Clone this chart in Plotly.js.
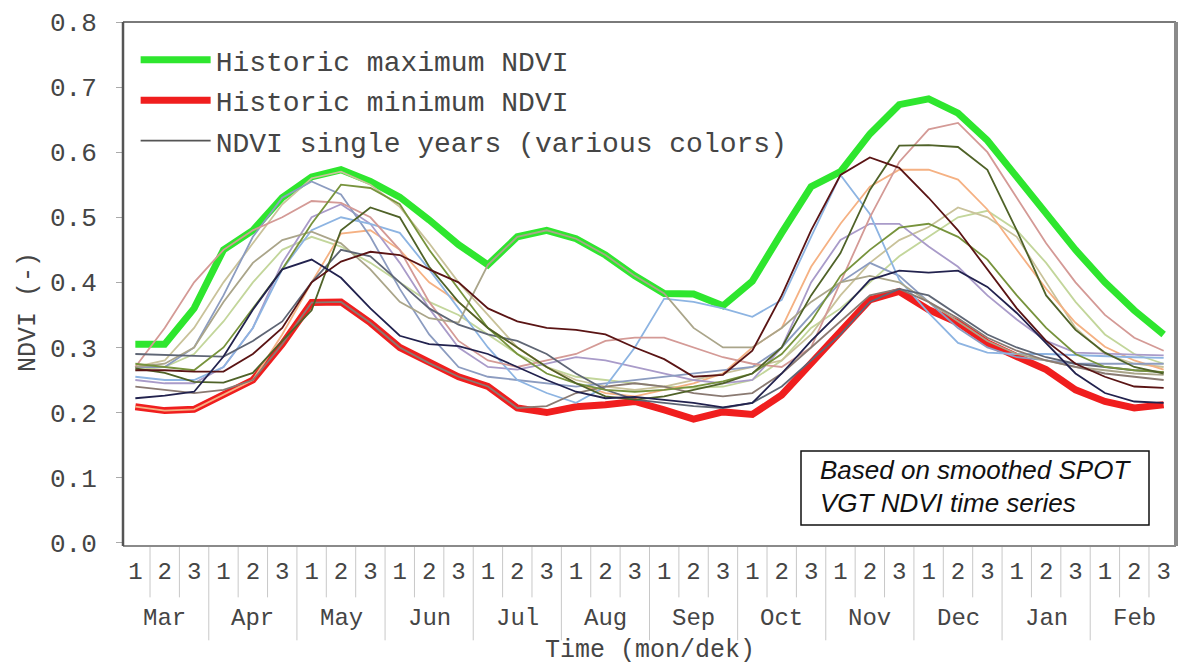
<!DOCTYPE html>
<html>
<head>
<meta charset="utf-8">
<script src="https://cdn.plot.ly/plotly-3.0.1.min.js"></script>
<style>
html,body{margin:0;padding:0;background:#ffffff;}
#chart{width:1184px;height:665px;}
</style>
</head>
<body>
<div id="chart"></div>
<script>
// ---- Data ----
const months = ['Mar','Apr','May','Jun','Jul','Aug','Sep','Oct','Nov','Dec','Jan','Feb'];
const dekads = ['1','2','3'];

const histMax = [0.305,0.305,0.36,0.45,0.48,0.53,0.562,0.573,0.555,0.531,0.496,0.458,0.427,0.47,0.48,0.467,0.442,0.41,0.383,0.382,0.364,0.402,0.476,0.547,0.57,0.628,0.673,0.682,0.66,0.618,0.562,0.507,0.45,0.40,0.357,0.32];
const histMin = [0.209,0.203,0.205,0.227,0.25,0.305,0.369,0.37,0.338,0.30,0.276,0.255,0.24,0.207,0.20,0.209,0.212,0.217,0.204,0.19,0.201,0.197,0.227,0.276,0.322,0.373,0.386,0.358,0.338,0.307,0.286,0.266,0.235,0.217,0.207,0.212];

const yearNavy     = [0.222,0.226,0.232,0.286,0.358,0.42,0.435,0.407,0.36,0.318,0.305,0.302,0.29,0.27,0.25,0.232,0.222,0.224,0.22,0.215,0.208,0.215,0.26,0.31,0.355,0.404,0.418,0.415,0.418,0.393,0.353,0.307,0.26,0.23,0.217,0.215];
const yearMaroon   = [0.265,0.265,0.263,0.263,0.29,0.33,0.40,0.432,0.447,0.442,0.42,0.40,0.36,0.34,0.33,0.327,0.32,0.30,0.282,0.255,0.258,0.295,0.38,0.48,0.565,0.592,0.576,0.53,0.48,0.42,0.36,0.31,0.275,0.255,0.24,0.238];
const yearLightBlue= [0.255,0.25,0.25,0.27,0.33,0.42,0.48,0.50,0.49,0.476,0.42,0.36,0.30,0.25,0.23,0.215,0.24,0.30,0.375,0.37,0.36,0.347,0.373,0.47,0.565,0.505,0.404,0.353,0.307,0.292,0.29,0.29,0.288,0.286,0.285,0.284];
const yearSteel    = [0.27,0.27,0.30,0.38,0.47,0.53,0.555,0.535,0.47,0.39,0.32,0.27,0.255,0.25,0.245,0.24,0.245,0.25,0.255,0.26,0.265,0.27,0.30,0.35,0.40,0.43,0.41,0.37,0.33,0.30,0.285,0.28,0.275,0.275,0.275,0.275];
const yearPink     = [0.27,0.33,0.40,0.45,0.48,0.50,0.525,0.522,0.50,0.45,0.37,0.31,0.28,0.27,0.28,0.29,0.31,0.315,0.315,0.30,0.285,0.275,0.27,0.30,0.40,0.50,0.585,0.635,0.645,0.60,0.53,0.46,0.40,0.35,0.315,0.295];
const yearLavender = [0.25,0.245,0.245,0.27,0.33,0.43,0.50,0.52,0.49,0.43,0.36,0.30,0.27,0.266,0.275,0.285,0.28,0.27,0.26,0.25,0.245,0.25,0.30,0.40,0.465,0.49,0.49,0.455,0.424,0.38,0.343,0.31,0.292,0.29,0.289,0.288];
const yearDarkOlive= [0.268,0.261,0.247,0.246,0.261,0.31,0.357,0.48,0.515,0.50,0.424,0.37,0.33,0.30,0.27,0.245,0.225,0.22,0.225,0.235,0.245,0.26,0.30,0.38,0.445,0.542,0.61,0.611,0.608,0.573,0.48,0.38,0.327,0.292,0.27,0.26];
const yearOlive    = [0.275,0.27,0.265,0.30,0.36,0.42,0.49,0.55,0.545,0.52,0.45,0.39,0.33,0.29,0.26,0.245,0.235,0.232,0.235,0.24,0.248,0.26,0.29,0.34,0.41,0.45,0.484,0.49,0.47,0.435,0.38,0.33,0.29,0.27,0.265,0.262];
const yearPeach    = [0.209,0.203,0.205,0.227,0.25,0.32,0.40,0.475,0.48,0.45,0.40,0.37,0.33,0.30,0.27,0.245,0.23,0.225,0.235,0.245,0.26,0.30,0.33,0.424,0.49,0.547,0.573,0.573,0.558,0.512,0.45,0.39,0.338,0.301,0.28,0.266];
const yearKhaki    = [0.27,0.28,0.33,0.40,0.46,0.52,0.56,0.57,0.55,0.516,0.46,0.40,0.35,0.30,0.27,0.25,0.24,0.235,0.24,0.25,0.26,0.27,0.28,0.32,0.38,0.43,0.465,0.485,0.515,0.50,0.47,0.40,0.33,0.29,0.275,0.27];
const yearGreyKhaki= [0.27,0.275,0.30,0.37,0.43,0.465,0.478,0.46,0.42,0.37,0.345,0.338,0.427,0.47,0.48,0.467,0.442,0.41,0.383,0.33,0.30,0.30,0.33,0.37,0.40,0.41,0.40,0.37,0.34,0.31,0.29,0.28,0.27,0.265,0.26,0.258];
const yearSlate    = [0.29,0.288,0.287,0.286,0.31,0.34,0.40,0.45,0.44,0.40,0.36,0.335,0.32,0.31,0.29,0.26,0.235,0.22,0.215,0.21,0.207,0.215,0.24,0.28,0.32,0.37,0.39,0.38,0.35,0.32,0.30,0.285,0.275,0.27,0.265,0.262];
const yearPaleGreen= [0.265,0.27,0.29,0.34,0.40,0.45,0.47,0.455,0.43,0.40,0.37,0.35,0.32,0.29,0.27,0.255,0.25,0.245,0.24,0.238,0.24,0.25,0.28,0.33,0.36,0.40,0.44,0.47,0.50,0.51,0.48,0.43,0.37,0.32,0.29,0.275];
const yearTaupe    = [0.24,0.235,0.23,0.235,0.25,0.305,0.369,0.37,0.338,0.30,0.276,0.255,0.24,0.207,0.21,0.23,0.24,0.245,0.24,0.23,0.225,0.23,0.26,0.30,0.34,0.38,0.39,0.37,0.345,0.315,0.295,0.28,0.27,0.26,0.255,0.25];

const yearSeries = [
  {y: yearPaleGreen, c:'#c3d69b'},
  {y: yearKhaki,     c:'#c9c29a'},
  {y: yearPeach,     c:'#f5b183'},
  {y: yearLavender,  c:'#a99bc9'},
  {y: yearSteel,     c:'#8c9cc0'},
  {y: yearLightBlue, c:'#8db4e2'},
  {y: yearPink,      c:'#d49a96'},
  {y: yearGreyKhaki, c:'#aaa58a'},
  {y: yearTaupe,     c:'#8a7a72'},
  {y: yearSlate,     c:'#5f6675'},
  {y: yearOlive,     c:'#77933c'},
  {y: yearDarkOlive, c:'#4f6228'},
  {y: yearMaroon,    c:'#5a1414'},
  {y: yearNavy,      c:'#22224e'}
];

// ---- Build ----
const xIdx = [];
const tickText = [];
months.forEach(() => dekads.forEach(d => { xIdx.push(xIdx.length); tickText.push(d); }));

const mono = 'Liberation Mono, Courier New, monospace';
const txt = '#454545';
const traces = [];
traces.push({x: xIdx, y: histMax, type:'scatter', mode:'lines', name:'Historic maximum NDVI',
  line:{color:'#2ee62e', width:7}, legendgroup:'a', hoverinfo:'skip'});
traces.push({x: xIdx, y: histMin, type:'scatter', mode:'lines', name:'Historic minimum NDVI',
  line:{color:'#f01e1e', width:7}, legendgroup:'b', hoverinfo:'skip'});
yearSeries.forEach(s => traces.push({x: xIdx, y: s.y, type:'scatter', mode:'lines',
  line:{color:s.c, width:1.8}, showlegend:false, hoverinfo:'skip'}));
traces.push({x: [null], y: [null], type:'scatter', mode:'lines', name:'NDVI single years (various colors)',
  line:{color:'#555555', width:1.8}, legendgroup:'c', showlegend:true});

const shapes = [];
// separators below the plot
for (let i = -1; i < xIdx.length; i++) {
  const isMonth = ((i + 1) % 3 === 0);
  shapes.push({type:'line', xref:'x', yref:'paper', x0:i+0.5, x1:i+0.5,
    y0:0, y1: isMonth ? -0.18 : -0.098, line:{color:'#c8c8c8', width:1}});
}
// frame
shapes.push({type:'line', xref:'paper', yref:'paper', x0:0, x1:1, y0:1, y1:1, line:{color:'#7a7a7a', width:2}});
shapes.push({type:'line', xref:'paper', yref:'paper', x0:0, x1:1, y0:0, y1:0, line:{color:'#8a8a8a', width:2}});
shapes.push({type:'line', xref:'paper', yref:'paper', x0:0, x1:0, y0:0, y1:1, line:{color:'#555555', width:2.5}});
shapes.push({type:'line', xref:'paper', yref:'paper', x0:1, x1:1, y0:0, y1:1, line:{color:'#8a8a8a', width:4}});
// note box
shapes.push({type:'rect', xref:'paper', yref:'paper',
  x0:(801-123)/1053, x1:(1149-123)/1053, y0:(546-525)/524, y1:(546-451)/524,
  line:{color:'#111111', width:1.5}, fillcolor:'#ffffff'});

const annotations = months.map((m, k) => ({
  x: k*3 + 1, y: (546-618)/524, xref:'x', yref:'paper', text: m, showarrow:false,
  font:{family:mono, size:24, color:txt}, xanchor:'center', yanchor:'middle'
}));
annotations.push({x:(650-123)/1053, y:(546-650)/524, xref:'paper', yref:'paper', showarrow:false,
  text:'Time (mon/dek)', xanchor:'center', yanchor:'middle',
  font:{family:mono, size:25, color:txt}});
annotations.push({x:(818-123)/1053, y:(546-470)/524, xref:'paper', yref:'paper', showarrow:false,
  text:'<i>Based on smoothed SPOT</i>', xanchor:'left', yanchor:'middle',
  font:{family:'Liberation Sans, Arial, sans-serif', size:26, color:'#111111'}});
annotations.push({x:(818-123)/1053, y:(546-503)/524, xref:'paper', yref:'paper', showarrow:false,
  text:'<i>VGT NDVI time series</i>', xanchor:'left', yanchor:'middle',
  font:{family:'Liberation Sans, Arial, sans-serif', size:26, color:'#111111'}});
annotations.push({x:(28-123)/1053, y:(546-312)/524, xref:'paper', yref:'paper', showarrow:false,
  text:'NDVI (-)', textangle:-90, xanchor:'center', yanchor:'middle',
  font:{family:mono, size:25, color:txt}});

const layout = {
  width:1184, height:665,
  margin:{l:123, r:8, t:22, b:119},
  paper_bgcolor:'#ffffff', plot_bgcolor:'#ffffff',
  showlegend:true,
  legend:{x:0.012, y:0.975, xanchor:'left', yanchor:'top', bgcolor:'rgba(0,0,0,0)',
    font:{family:mono, size:28, color:txt}, itemwidth:70, traceorder:'grouped', tracegroupgap:1},
  xaxis:{range:[-0.42, 35.42], tickmode:'array', tickvals:xIdx, ticktext:tickText,
    showgrid:false, zeroline:false, showline:false, ticks:'', ticklabelstandoff:8,
    tickfont:{family:mono, size:24, color:txt}},
  yaxis:{range:[-0.005, 0.8], tickmode:'array', tickvals:[0,0.1,0.2,0.3,0.4,0.5,0.6,0.7,0.8],
    ticktext:['0.0','0.1','0.2','0.3','0.4','0.5','0.6','0.7','0.8'],
    showgrid:false, zeroline:false, showline:false, ticks:'outside', ticklen:6, tickcolor:'#aaaaaa',
    ticklabelstandoff:14,
    tickfont:{family:mono, size:26, color:txt}},
  shapes: shapes,
  annotations: annotations
};

Plotly.newPlot('chart', traces, layout, {displayModeBar:false, staticPlot:true});
</script>
</body>
</html>
